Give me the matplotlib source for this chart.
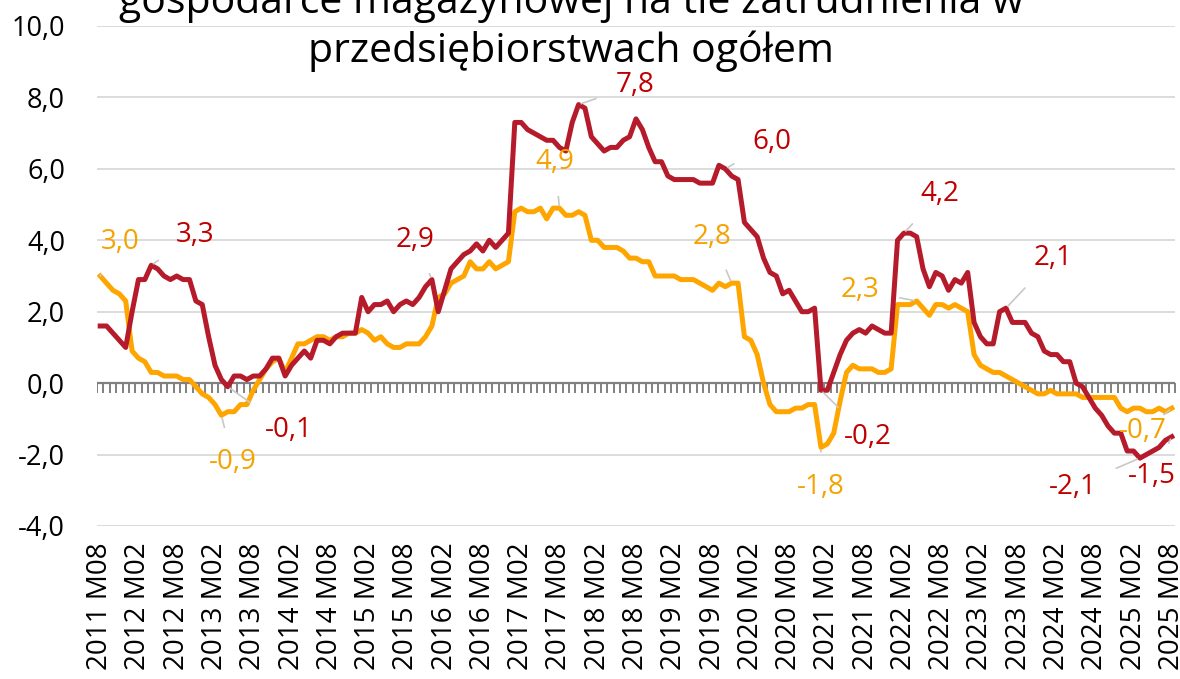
import numpy as np
import matplotlib
matplotlib.use("Agg")
import matplotlib.pyplot as plt
from matplotlib.ticker import FuncFormatter

plt.rcParams['font.family'] = ['Open Sans', 'DejaVu Sans']

# miesiące od 2011 M08 do 2025 M08
start_year, start_month = 2011, 8
n_months = 169
months = [f"{start_year + (start_month - 1 + i) // 12} M{(start_month - 1 + i) % 12 + 1:02d}"
          for i in range(n_months)]
tick_idx = list(range(0, n_months, 6))
tick_labels = [months[i] for i in tick_idx]

# gospodarka magazynowa (czerwona)
magazyny = [
    1.6, 1.6, 1.4, 1.2, 1.0, 2.0, 2.9, 2.9, 3.3, 3.2,
    3.0, 2.9, 3.0, 2.9, 2.9, 2.3, 2.2, 1.3, 0.5, 0.1,
    -0.1, 0.2, 0.2, 0.1, 0.2, 0.2, 0.4, 0.7, 0.7, 0.2,
    0.5, 0.7, 0.9, 0.7, 1.2, 1.2, 1.1, 1.3, 1.4, 1.4,
    1.4, 2.4, 2.0, 2.2, 2.2, 2.3, 2.0, 2.2, 2.3, 2.2,
    2.4, 2.7, 2.9, 2.0, 2.6, 3.2, 3.4, 3.6, 3.7, 3.9,
    3.7, 4.0, 3.8, 4.0, 4.2, 7.3, 7.3, 7.1, 7.0, 6.9,
    6.8, 6.8, 6.6, 6.5, 7.3, 7.8, 7.7, 6.9, 6.7, 6.5,
    6.6, 6.6, 6.8, 6.9, 7.4, 7.1, 6.6, 6.2, 6.2, 5.8,
    5.7, 5.7, 5.7, 5.7, 5.6, 5.6, 5.6, 6.1, 6.0, 5.8,
    5.7, 4.5, 4.3, 4.1, 3.5, 3.1, 3.0, 2.5, 2.6, 2.3,
    2.0, 2.0, 2.1, -0.2, -0.2, 0.3, 0.8, 1.2, 1.4, 1.5,
    1.4, 1.6, 1.5, 1.4, 1.4, 4.0, 4.2, 4.2, 4.1, 3.2,
    2.7, 3.1, 3.0, 2.6, 2.9, 2.8, 3.1, 1.7, 1.3, 1.1,
    1.1, 2.0, 2.1, 1.7, 1.7, 1.7, 1.4, 1.3, 0.9, 0.8,
    0.8, 0.6, 0.6, 0.0, -0.1, -0.4, -0.7, -0.9, -1.2, -1.4,
    -1.4, -1.9, -1.9, -2.1, -2.0, -1.9, -1.8, -1.6, -1.5,
]

# przedsiębiorstwa ogółem (pomarańczowa)
ogolem = [
    3.0, 2.8, 2.6, 2.5, 2.3, 0.9, 0.7, 0.6, 0.3, 0.3,
    0.2, 0.2, 0.2, 0.1, 0.1, -0.1, -0.3, -0.4, -0.6, -0.9,
    -0.8, -0.8, -0.6, -0.6, -0.2, 0.1, 0.4, 0.6, 0.7, 0.3,
    0.7, 1.1, 1.1, 1.2, 1.3, 1.3, 1.2, 1.3, 1.3, 1.4,
    1.4, 1.5, 1.4, 1.2, 1.3, 1.1, 1.0, 1.0, 1.1, 1.1,
    1.1, 1.3, 1.6, 2.4, 2.5, 2.8, 2.9, 3.0, 3.4, 3.2,
    3.2, 3.4, 3.2, 3.3, 3.4, 4.8, 4.9, 4.8, 4.8, 4.9,
    4.6, 4.9, 4.9, 4.7, 4.7, 4.8, 4.7, 4.0, 4.0, 3.8,
    3.8, 3.8, 3.7, 3.5, 3.5, 3.4, 3.4, 3.0, 3.0, 3.0,
    3.0, 2.9, 2.9, 2.9, 2.8, 2.7, 2.6, 2.8, 2.7, 2.8,
    2.8, 1.3, 1.2, 0.8, 0.0, -0.6, -0.8, -0.8, -0.8, -0.7,
    -0.7, -0.6, -0.6, -1.8, -1.7, -1.4, -0.5, 0.3, 0.5, 0.4,
    0.4, 0.4, 0.3, 0.3, 0.4, 2.2, 2.2, 2.2, 2.3, 2.1,
    1.9, 2.2, 2.2, 2.1, 2.2, 2.1, 2.0, 0.8, 0.5, 0.4,
    0.3, 0.3, 0.2, 0.1, 0.0, -0.1, -0.2, -0.3, -0.3, -0.2,
    -0.3, -0.3, -0.3, -0.3, -0.4, -0.4, -0.4, -0.4, -0.4, -0.4,
    -0.7, -0.8, -0.7, -0.7, -0.8, -0.8, -0.7, -0.8, -0.7,
]

# etykiety danych: (indeks punktu, pozycja tekstu x, y)
etykiety_mag = [(8, 14.9, 4.15), (20, 29.5, -1.3), (52, 49.4, 4.0), (75, 83.9, 8.35),
                (98, 105.3, 6.75), (113, 120.4, -1.5), (126, 131.7, 5.3),
                (142, 149.4, 3.5), (163, 152.5, -2.9), (168, 164.9, -2.6)]
etykiety_og = [(0, 3.1, 3.95), (19, 20.8, -2.2), (72, 71.3, 6.2), (99, 95.9, 4.1),
               (113, 112.9, -2.9), (128, 119.1, 2.6), (168, 163.5, -1.35)]

RED = '#B51B2B'
RED_TXT = '#C00000'
ORANGE = '#FFA500'
ORANGE_TXT = '#F5A300'

fig = plt.figure(figsize=(11.8, 6.79), dpi=100)
ax = fig.add_axes([97 / 1180, 153 / 679, 1078 / 1180, 500 / 679])

x = np.arange(n_months)
ax.plot(x, ogolem, color=ORANGE, lw=3.6, zorder=4, solid_joinstyle='round')
ax.plot(x, magazyny, color=RED, lw=3.6, zorder=5, solid_joinstyle='round')

# linia zera z miesięcznymi znacznikami
ax.axhline(0, color='#808080', lw=1.6, zorder=3)
ticks_between = np.arange(-0.5, n_months, 1.0)
ax.plot(ticks_between, np.zeros_like(ticks_between), ls='none', marker=3,
        markersize=7, mew=1.4, color='#808080', zorder=3)


def fmt(v):
    return f"{v:.1f}".replace('.', ',')


def add_labels(series, labels, color):
    for i, tx, ty in labels:
        ax.annotate(fmt(series[i]), xy=(i, series[i]), xytext=(tx, ty),
                    ha='center', va='center', fontsize=20, color=color, zorder=6,
                    arrowprops=dict(arrowstyle='-', color='#C8C8C8', lw=1.2,
                                    shrinkA=13, shrinkB=2))


add_labels(ogolem, etykiety_og, ORANGE_TXT)
add_labels(magazyny, etykiety_mag, RED_TXT)

ax.set_xlim(-0.5, n_months - 0.5)
ax.set_ylim(-4, 10)
ax.set_yticks(np.arange(-4, 10.1, 2))
ax.yaxis.set_major_formatter(FuncFormatter(lambda v, p: fmt(v)))
ax.yaxis.grid(True, color='#D9D9D9', lw=1.3)
ax.set_axisbelow(True)
ax.set_xticks(tick_idx)
ax.set_xticklabels(tick_labels, rotation=90, va='top', ha='center')
ax.tick_params(axis='x', length=0, pad=12, labelsize=20)
ax.tick_params(axis='y', length=0, pad=23, labelsize=19.5)
for s in ax.spines.values():
    s.set_visible(False)

fig.text(571 / 1180, 1 - 13 / 679, "gospodarce magazynowej na tle zatrudnienia w",
         ha='center', va='baseline', fontsize=29.5, color='#000000')
fig.text(571 / 1180, 1 - 62 / 679, "przedsiębiorstwach ogółem",
         ha='center', va='baseline', fontsize=29.5, color='#000000')

fig.savefig('out.png', dpi=100)
